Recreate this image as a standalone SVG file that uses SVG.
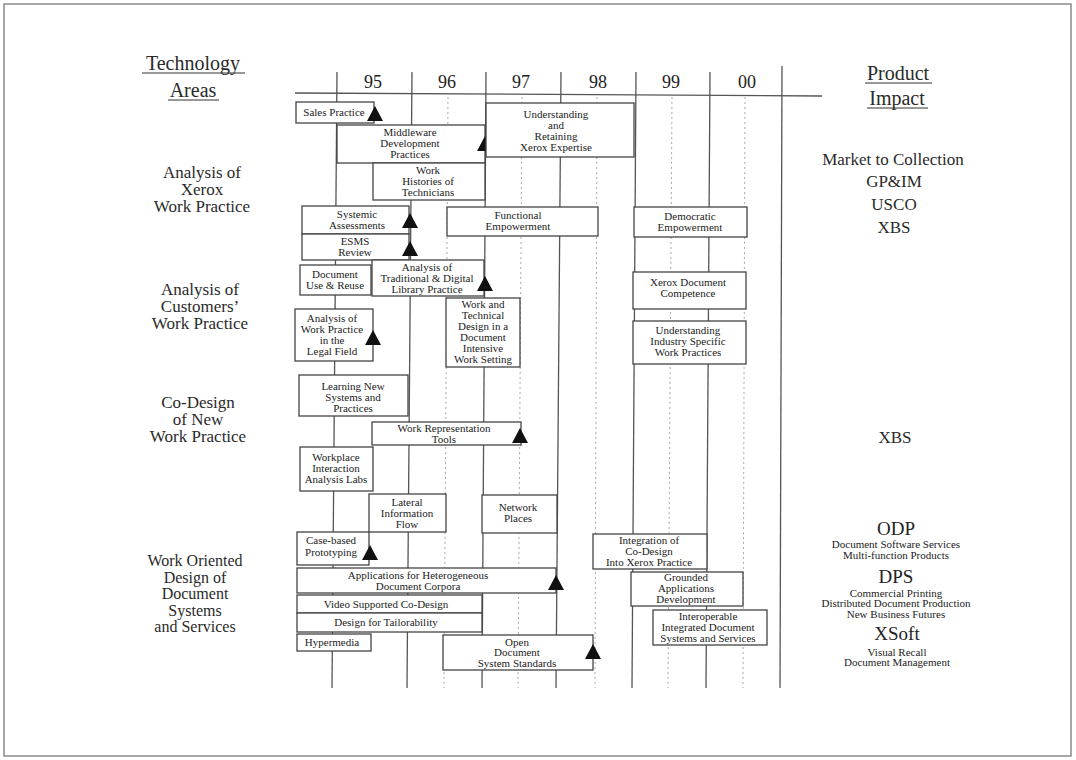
<svg xmlns="http://www.w3.org/2000/svg" xmlns:xlink="http://www.w3.org/1999/xlink" width="1076" height="760" viewBox="0 0 1076 760">
<style>
.frame{fill:#fff;stroke:#8a8a8a;stroke-width:1.5}
.grid{stroke:#555;stroke-width:1.3;fill:none}
.dot{stroke:#aaa;stroke-width:1;stroke-dasharray:2 3;fill:none}
.box{fill:#fff;stroke:#444;stroke-width:1.3}
.bt{font-family:"Liberation Serif","Times New Roman",serif;font-size:11px;fill:#222;text-anchor:middle}
.area{font-family:"Liberation Serif","Times New Roman",serif;font-size:17px;fill:#2a2a2a;text-anchor:middle}
.area2{font-family:"Liberation Serif","Times New Roman",serif;font-size:16px;fill:#2a2a2a;text-anchor:middle}
.head{font-family:"Liberation Serif","Times New Roman",serif;font-size:20px;fill:#2a2a2a;text-anchor:middle}
.yr{font-family:"Liberation Serif","Times New Roman",serif;font-size:18px;fill:#222;text-anchor:middle}
.big{font-family:"Liberation Serif","Times New Roman",serif;font-size:19px;fill:#222;text-anchor:middle}
.small{font-family:"Liberation Serif","Times New Roman",serif;font-size:11px;fill:#222;text-anchor:middle}
.ul{stroke:#333;stroke-width:1.2}
.tri{fill:#111}
</style>
<defs>
<path id="tri" class="tri" d="M0,0 L8,15 L-8,15 Z"/>
</defs>
<rect class="frame" x="4" y="4" width="1067" height="752"/>

<g id="headings">
<text class="head" x="193" y="70">Technology</text>
<line class="ul" x1="142" y1="73" x2="245" y2="73"/>
<text class="head" x="193" y="97">Areas</text>
<line class="ul" x1="168" y1="100" x2="219" y2="100"/>
<text class="head" x="898" y="80">Product</text>
<line class="ul" x1="865" y1="83" x2="932" y2="83"/>
<text class="head" x="897" y="105">Impact</text>
<line class="ul" x1="867" y1="108" x2="928" y2="108"/>
</g>

<g id="years">
<text class="yr" x="373" y="88">95</text>
<text class="yr" x="447" y="88">96</text>
<text class="yr" x="521" y="88">97</text>
<text class="yr" x="598" y="88">98</text>
<text class="yr" x="671" y="88">99</text>
<text class="yr" x="747" y="88">00</text>
</g>

<g id="connectors">
<line class="grid" x1="295" y1="93" x2="822" y2="96"/>
<line class="grid" x1="337" y1="72" x2="332" y2="688"/>
<line class="grid" x1="412" y1="72" x2="407" y2="688"/>
<line class="grid" x1="486" y1="72" x2="482" y2="688"/>
<line class="grid" x1="561" y1="72" x2="556" y2="688"/>
<line class="grid" x1="636" y1="72" x2="632" y2="688"/>
<line class="grid" x1="710" y1="72" x2="706" y2="688"/>
<line class="grid" x1="782" y1="66" x2="780" y2="688"/>
<line class="dot" x1="448" y1="97" x2="444" y2="688"/>
<line class="dot" x1="522" y1="97" x2="518" y2="688"/>
<line class="dot" x1="597" y1="97" x2="595" y2="688"/>
<line class="dot" x1="672" y1="97" x2="668" y2="688"/>
<line class="dot" x1="745" y1="97" x2="743" y2="688"/>
</g>

<g id="areas">
<text class="area"><tspan x="202" y="178">Analysis of</tspan><tspan x="202" y="195">Xerox</tspan><tspan x="202" y="212">Work Practice</tspan></text>
<text class="area"><tspan x="200" y="295">Analysis of</tspan><tspan x="200" y="312">Customers’</tspan><tspan x="200" y="329">Work Practice</tspan></text>
<text class="area"><tspan x="198" y="408">Co-Design</tspan><tspan x="198" y="425">of New</tspan><tspan x="198" y="442">Work Practice</tspan></text>
<text class="area2"><tspan x="195" y="566">Work Oriented</tspan><tspan x="195" y="582.5">Design of</tspan><tspan x="195" y="599">Document</tspan><tspan x="195" y="615.5">Systems</tspan><tspan x="195" y="632">and Services</tspan></text>
</g>

<g id="impact">
<text class="area" x="893" y="165">Market to Collection</text>
<text class="area" x="894" y="187">GP&amp;IM</text>
<text class="area" x="894" y="210">USCO</text>
<text class="area" x="894" y="233">XBS</text>
<text class="area" x="895" y="443">XBS</text>
<text class="big" x="896" y="535">ODP</text>
<text class="small"><tspan x="896" y="548">Document Software Services</tspan><tspan x="896" y="559">Multi-function Products</tspan></text>
<text class="big" x="896" y="583">DPS</text>
<text class="small"><tspan x="896" y="597">Commercial Printing</tspan><tspan x="896" y="607">Distributed Document Production</tspan><tspan x="896" y="618">New Business Futures</tspan></text>
<text class="big" x="897" y="640">XSoft</text>
<text class="small"><tspan x="897" y="656">Visual Recall</tspan><tspan x="897" y="666">Document Management</tspan></text>
</g>

<g id="n-sales">
<rect class="box" x="296" y="102" width="78" height="21"/>
<text class="bt" x="334" y="116">Sales Practice</text>
<use xlink:href="#tri" x="375" y="106"/>
</g>
<g id="n-middleware">
<rect class="box" x="337" y="125" width="148" height="38"/>
<text class="bt"><tspan x="410" y="136">Middleware</tspan><tspan x="410" y="147">Development</tspan><tspan x="410" y="158">Practices</tspan></text>
<use xlink:href="#tri" x="485" y="136"/>
</g>
<g id="n-understanding">
<rect class="box" x="486" y="103" width="148" height="54"/>
<text class="bt"><tspan x="556" y="118">Understanding</tspan><tspan x="556" y="129">and</tspan><tspan x="556" y="140">Retaining</tspan><tspan x="556" y="151">Xerox Expertise</tspan></text>
</g>
<g id="n-histories">
<rect class="box" x="373" y="163" width="112" height="37"/>
<text class="bt"><tspan x="428" y="174">Work</tspan><tspan x="428" y="185">Histories of</tspan><tspan x="428" y="196">Technicians</tspan></text>
</g>
<g id="n-systemic">
<rect class="box" x="302" y="206" width="107" height="28"/>
<text class="bt"><tspan x="357" y="218">Systemic</tspan><tspan x="357" y="229">Assessments</tspan></text>
<use xlink:href="#tri" x="410" y="213"/>
</g>
<g id="n-esms">
<rect class="box" x="302" y="234" width="107" height="26"/>
<text class="bt"><tspan x="355" y="245">ESMS</tspan><tspan x="355" y="256">Review</tspan></text>
<use xlink:href="#tri" x="410" y="241"/>
</g>
<g id="n-functional">
<rect class="box" x="447" y="207" width="151" height="29"/>
<text class="bt"><tspan x="518" y="219">Functional</tspan><tspan x="518" y="230">Empowerment</tspan></text>
</g>
<g id="n-democratic">
<rect class="box" x="634" y="207" width="113" height="30"/>
<text class="bt"><tspan x="690" y="220">Democratic</tspan><tspan x="690" y="231">Empowerment</tspan></text>
</g>
<g id="n-docuse">
<rect class="box" x="300" y="265" width="71" height="30"/>
<text class="bt"><tspan x="335" y="278">Document</tspan><tspan x="335" y="289">Use &amp; Reuse</tspan></text>
</g>
<g id="n-library">
<rect class="box" x="372" y="260" width="112" height="36"/>
<text class="bt"><tspan x="427" y="271">Analysis of</tspan><tspan x="427" y="282">Traditional &amp; Digital</tspan><tspan x="427" y="293">Library Practice</tspan></text>
<use xlink:href="#tri" x="485" y="276"/>
</g>
<g id="n-legal">
<rect class="box" x="295" y="309" width="78" height="52"/>
<text class="bt"><tspan x="332" y="322">Analysis of</tspan><tspan x="332" y="333">Work Practice</tspan><tspan x="332" y="344">in the</tspan><tspan x="332" y="355">Legal Field</tspan></text>
<use xlink:href="#tri" x="373" y="330"/>
</g>
<g id="n-worktech">
<rect class="box" x="446" y="298" width="74" height="69"/>
<text class="bt"><tspan x="483" y="308">Work and</tspan><tspan x="483" y="319">Technical</tspan><tspan x="483" y="330">Design in a</tspan><tspan x="483" y="341">Document</tspan><tspan x="483" y="352">Intensive</tspan><tspan x="483" y="363">Work Setting</tspan></text>
</g>
<g id="n-xdc">
<rect class="box" x="633" y="272" width="113" height="37"/>
<text class="bt"><tspan x="688" y="286">Xerox Document</tspan><tspan x="688" y="297">Competence</tspan></text>
</g>
<g id="n-industry">
<rect class="box" x="633" y="321" width="113" height="43"/>
<text class="bt"><tspan x="688" y="334">Understanding</tspan><tspan x="688" y="345">Industry Specific</tspan><tspan x="688" y="356">Work Practices</tspan></text>
</g>
<g id="n-learning">
<rect class="box" x="299" y="375" width="109" height="41"/>
<text class="bt"><tspan x="353" y="390">Learning New</tspan><tspan x="353" y="401">Systems and</tspan><tspan x="353" y="412">Practices</tspan></text>
</g>
<g id="n-workrep">
<rect class="box" x="372" y="422" width="149" height="23"/>
<text class="bt"><tspan x="444" y="432">Work Representation</tspan><tspan x="444" y="443">Tools</tspan></text>
<use xlink:href="#tri" x="520" y="428"/>
</g>
<g id="n-workplace">
<rect class="box" x="300" y="447" width="73" height="44"/>
<text class="bt"><tspan x="336" y="461">Workplace</tspan><tspan x="336" y="472">Interaction</tspan><tspan x="336" y="483">Analysis Labs</tspan></text>
</g>
<g id="n-lateral">
<rect class="box" x="369" y="494" width="77" height="38"/>
<text class="bt"><tspan x="407" y="506">Lateral</tspan><tspan x="407" y="517">Information</tspan><tspan x="407" y="528">Flow</tspan></text>
</g>
<g id="n-network">
<rect class="box" x="482" y="495" width="75" height="38"/>
<text class="bt"><tspan x="518" y="511">Network</tspan><tspan x="518" y="522">Places</tspan></text>
</g>
<g id="n-casebased">
<rect class="box" x="297" y="532" width="72" height="33"/>
<text class="bt"><tspan x="331" y="544">Case-based</tspan><tspan x="331" y="556">Prototyping</tspan></text>
<use xlink:href="#tri" x="370" y="545"/>
</g>
<g id="n-integration">
<rect class="box" x="593" y="534" width="114" height="35"/>
<text class="bt"><tspan x="649" y="544">Integration of</tspan><tspan x="649" y="555">Co-Design</tspan><tspan x="649" y="566">Into Xerox Practice</tspan></text>
</g>
<g id="n-applications">
<rect class="box" x="297" y="568" width="259" height="25"/>
<text class="bt"><tspan x="418" y="579">Applications for Heterogeneous</tspan><tspan x="418" y="590">Document Corpora</tspan></text>
<use xlink:href="#tri" x="556" y="575"/>
</g>
<g id="n-grounded">
<rect class="box" x="631" y="572" width="112" height="34"/>
<text class="bt"><tspan x="686" y="581">Grounded</tspan><tspan x="686" y="592">Applications</tspan><tspan x="686" y="603">Development</tspan></text>
</g>
<g id="n-video">
<rect class="box" x="297" y="595" width="185" height="18"/>
<text class="bt" x="386" y="608">Video Supported Co-Design</text>
</g>
<g id="n-tailor">
<rect class="box" x="297" y="613" width="185" height="19"/>
<text class="bt" x="386" y="626">Design for Tailorability</text>
</g>
<g id="n-interop">
<rect class="box" x="653" y="610" width="114" height="35"/>
<text class="bt"><tspan x="708" y="620">Interoperable</tspan><tspan x="708" y="631">Integrated Document</tspan><tspan x="708" y="642">Systems and Services</tspan></text>
</g>
<g id="n-hypermedia">
<rect class="box" x="297" y="634" width="74" height="17"/>
<text class="bt" x="332" y="646">Hypermedia</text>
</g>
<g id="n-open">
<rect class="box" x="443" y="635" width="150" height="35"/>
<text class="bt"><tspan x="517" y="646">Open</tspan><tspan x="517" y="656">Document</tspan><tspan x="517" y="667">System Standards</tspan></text>
<use xlink:href="#tri" x="593" y="644"/>
</g>
</svg>
